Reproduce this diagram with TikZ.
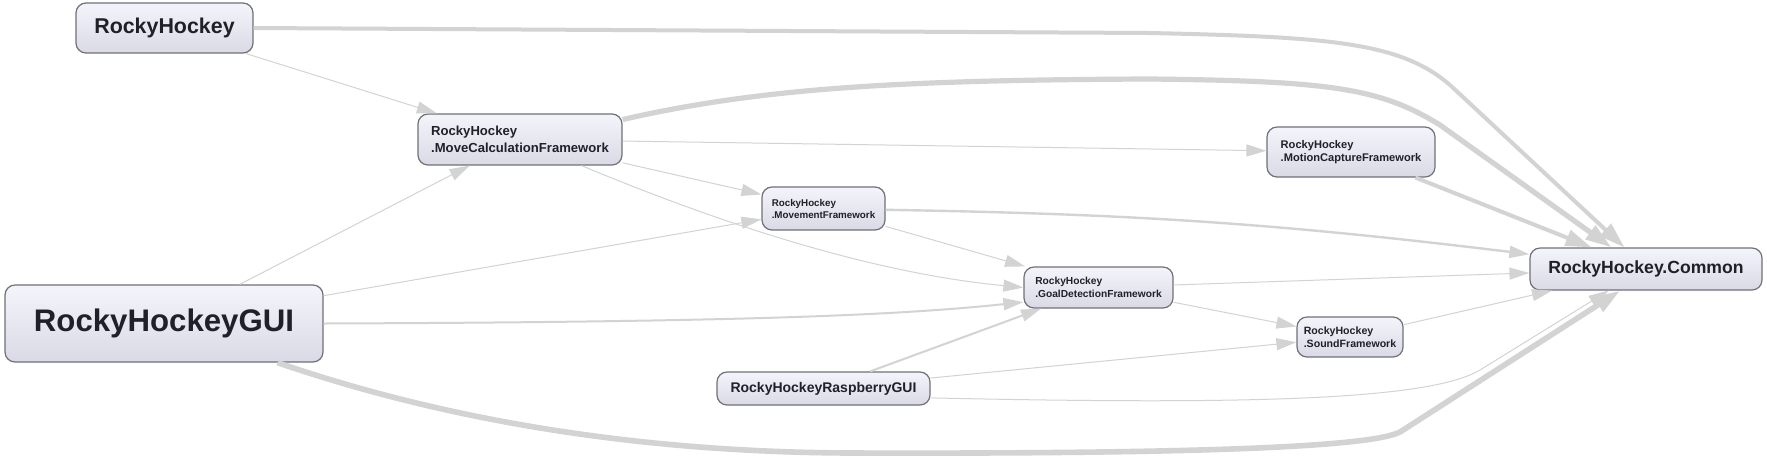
\documentclass[tikz,border=0pt]{standalone}
\usepackage{fontspec}
\setmainfont{Liberation Sans}
\usetikzlibrary{arrows.meta}
\definecolor{edgegray}{HTML}{D3D3D3}
\definecolor{boxtop}{HTML}{F4F4FB}
\definecolor{boxbot}{HTML}{DADAE6}
\definecolor{boxline}{HTML}{707078}
\definecolor{txt}{HTML}{202028}
\begin{document}
\begin{tikzpicture}[x=0.5pt,y=-0.5pt,
  box/.style={draw=boxline,line width=0.6pt,rounded corners=5pt,top color=boxtop,bottom color=boxbot,inner sep=0pt,align=left,text=txt},
  txtsize/.style 2 args={font=\bfseries\fontsize{#1}{#2}\selectfont},
  dep/.style={draw=edgegray,line width=0.5pt,-{Triangle[length=10pt,width=6pt]}},
  heavy/.style={draw=edgegray,-{Triangle[length=13pt,width=8pt]}}]
\path[use as bounding box,fill=white] (0,0) rectangle (1767,457);
\node[box,minimum width=88.5pt,minimum height=25pt,txtsize={10.7}{13}] (hockey) at (164.5,28) {RockyHockey};
\node[box,minimum width=159pt,minimum height=38.5pt,txtsize={15.6}{18}] (gui) at (164,323.5) {RockyHockeyGUI};
\node[box,minimum width=102pt,minimum height=25.5pt,txtsize={6.55}{8.3}] (movecalc) at (520,139.5) {RockyHockey\\.MoveCalculationFramework};
\node[box,minimum width=61.5pt,minimum height=21.5pt,txtsize={4.9}{6}] (movement) at (823.5,208.5) {RockyHockey\\.MovementFramework};
\node[box,minimum width=74.5pt,minimum height=20.5pt,txtsize={5.1}{6.2}] (goal) at (1098.5,287.5) {RockyHockey\\.GoalDetectionFramework};
\node[box,minimum width=84pt,minimum height=25pt,txtsize={5.55}{6.7}] (motion) at (1351,152) {RockyHockey\\.MotionCaptureFramework};
\node[box,minimum width=53pt,minimum height=20pt,txtsize={5.3}{6.2}] (sound) at (1350,337) {RockyHockey\\.SoundFramework};
\node[box,minimum width=106.5pt,minimum height=16.5pt,txtsize={7}{8.5}] (raspberry) at (823.5,388.5) {RockyHockeyRaspberryGUI};
\node[box,minimum width=116pt,minimum height=21pt,txtsize={8.8}{10.5}] (common) at (1646,269) {RockyHockey.Common};
\draw[dep] (hockey) -- (movecalc);
\draw[dep] (movecalc) -- (motion);
\draw[dep] (movecalc) -- (movement);
\draw[dep] (movecalc.-23) .. controls (700,215) and (860,272) .. (goal.west);
\draw[dep] (movement) -- (goal);
\draw[dep] (goal) -- (common);
\draw[dep] (goal) -- (sound);
\draw[dep] (sound) -- (common);
\draw[dep] (gui) -- (movecalc);
\draw[dep] (gui) -- (movement);
\draw[dep] (raspberry) -- (sound);
\draw[dep] (raspberry.-5) .. controls (1250,405) and (1430,400) .. (1480,370) -- (common.-150);
\draw[dep,line width=1.2pt] (movement) to[bend left=3] (common);
\draw[dep,line width=1pt] (gui.east) .. controls (750,322) and (900,315) .. (goal.-169);
\draw[dep,line width=1pt] (raspberry) -- (goal);
\draw[heavy,line width=2pt] (hockey.east) -- (1150,33) .. controls (1330,37) and (1400,42) .. (1450,85) -- (common.135);
\draw[heavy,line width=2.6pt] (movecalc.11) .. controls (760,88) and (900,80) .. (1150,79) .. controls (1330,81) and (1380,88) .. (1440,125) -- (common.148);
\draw[heavy,line width=2pt] (motion) -- (common);
\draw[heavy,line width=2.8pt] (gui.-19) .. controls (430,415) and (620,452) .. (850,453) .. controls (1200,454) and (1370,447) .. (1400,432) -- (common.-140);
\end{tikzpicture}
\end{document}
